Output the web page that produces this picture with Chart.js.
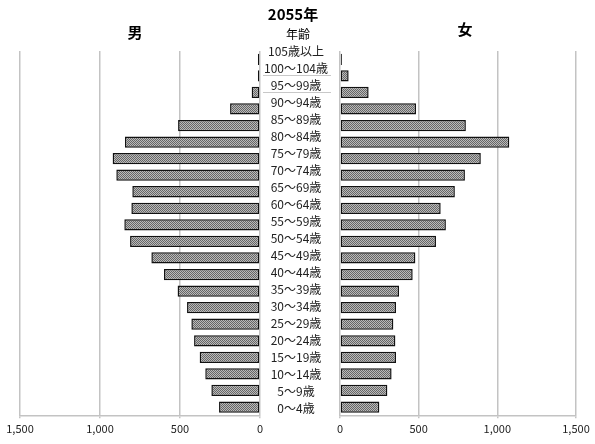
<!DOCTYPE html>
<html>
<head>
<meta charset="utf-8">
<script src="https://cdn.jsdelivr.net/npm/chart.js@4/dist/chart.umd.min.js"></script>
<style>
  html, body { margin: 0; padding: 0; background: #fff; }
  #wrap { position: relative; width: 595px; height: 444px; overflow: hidden;
          font-family: "Noto Sans CJK JP", "Noto Sans", sans-serif; color: #000; }
  #wrap canvas { position: absolute; left: 0; top: 0; }
  .t { position: absolute; transform: translate(-50%, -50%); white-space: nowrap; line-height: 1; }
</style>
</head>
<body>
<div id="wrap">
  <canvas id="maleChart" width="595" height="444"></canvas>
  <canvas id="femaleChart" width="595" height="444"></canvas>
  <div class="t" style="left:293px;top:13px;font-size:15px;font-weight:bold;">2055年</div>
  <div class="t" style="left:135px;top:31px;font-size:15px;font-weight:bold;">男</div>
  <div class="t" style="left:465px;top:28px;font-size:15px;font-weight:bold;">女</div>
  <div class="t" style="left:298px;top:34px;font-size:12px;">年齢</div>
</div>
<script>
// Age groups, youngest first
const ageLabels = ['0～4歳', '5～9歳', '10～14歳', '15～19歳', '20～24歳', '25～29歳',
  '30～34歳', '35～39歳', '40～44歳', '45～49歳', '50～54歳', '55～59歳', '60～64歳',
  '65～69歳', '70～74歳', '75～79歳', '80～84歳', '85～89歳', '90～94歳', '95～99歳',
  '100～104歳', '105歳以上'];

// Population by age group (thousands)
const maleValues = [256, 304, 342, 377, 412, 429, 456, 515, 600, 679, 812, 848, 804,
  798, 898, 921, 844, 512, 187, 52, 13, 13];
const femaleValues = [250, 301, 328, 356, 352, 339, 356, 375, 462, 479, 610, 673, 640,
  730, 794, 895, 1076, 800, 483, 182, 55, 12];

// Value axis range and tick step
const axisMin = 0;
const axisMax = 1500;
const axisStep = 500;

// Dotted grey fill for the bars
function dotPattern() {
  const c = document.createElement('canvas');
  c.width = 2; c.height = 2;
  const g = c.getContext('2d');
  g.fillStyle = '#bababa'; g.fillRect(0, 0, 2, 2);
  g.fillStyle = '#666666'; g.fillRect(0, 0, 1, 1); g.fillRect(1, 1, 1, 1);
  return g.createPattern(c, 'repeat');
}
const barFill = dotPattern();

const fontFamily = '"Noto Sans CJK JP", "Noto Sans", sans-serif';
const gridColor = '#c3c3c3';

function barDataset(values) {
  return {
    data: values,
    backgroundColor: barFill,
    borderColor: '#111',
    borderWidth: 1.5,
    borderSkipped: false,
    categoryPercentage: 1,
    barPercentage: 0.68
  };
}

function valueAxis(reverse) {
  return {
    type: 'linear',
    min: axisMin,
    max: axisMax,
    reverse: reverse,
    ticks: { stepSize: axisStep, font: { family: fontFamily, size: 11 }, color: '#222', padding: 4, maxRotation: 0 },
    grid: { color: gridColor, lineWidth: 1.5, tickLength: 3 },
    border: { color: gridColor, width: 1.5 }
  };
}

// thin separators under the two oldest closed age groups in the label column
const separatorPlugin = {
  id: 'ageSeparators',
  afterDraw(chart) {
    const s = chart.scales.age;
    if (!s) return;
    const ctx = chart.ctx;
    ctx.save();
    ctx.strokeStyle = '#c8c8c8';
    ctx.lineWidth = 1;
    [20, 19].forEach(i => {
      const y = Math.round(s.getPixelForValue(i - 0.38)) + 0.5;
      ctx.beginPath();
      ctx.moveTo(s.left + 3, y);
      ctx.lineTo(s.right - 9, y);
      ctx.stroke();
    });
    ctx.restore();
  }
};

const common = {
  responsive: false,
  animation: false,
  indexAxis: 'y',
  plugins: { legend: { display: false }, tooltip: { enabled: false } }
};

// Male side: value axis runs right to left, age labels in the middle column
new Chart(document.getElementById('maleChart'), {
  type: 'bar',
  data: { labels: ageLabels, datasets: [barDataset(maleValues)] },
  options: Object.assign({}, common, {
    layout: { padding: { left: 20, right: 255, top: 51, bottom: 4.5 } },
    scales: {
      x: valueAxis(true),
      y: { type: 'category', reverse: true, display: false, offset: true },
      age: {
        type: 'linear',
        axis: 'y',
        position: 'right',
        offset: false,
        min: -0.424,
        max: 21.04,
        grid: { display: false, drawTicks: false, offset: false },
        border: { display: false },
        afterFit: s => { s.width = 80; },
        ticks: {
          stepSize: 1,
          includeBounds: false,
          autoSkip: false,
          crossAlign: 'center',
          padding: 4,
          color: '#222',
          font: { family: fontFamily, size: 12 },
          callback: v => (Number.isInteger(v) && ageLabels[v] !== undefined) ? ageLabels[v] : ''
        }
      }
    }
  }),
  plugins: [separatorPlugin]
});

// Female side
new Chart(document.getElementById('femaleChart'), {
  type: 'bar',
  data: { labels: ageLabels, datasets: [barDataset(femaleValues)] },
  options: Object.assign({}, common, {
    layout: { padding: { left: 340, right: 19, top: 51, bottom: 4.5 } },
    scales: {
      x: valueAxis(false),
      y: { type: 'category', reverse: true, display: false, offset: true }
    }
  })
});
</script>
</body>
</html>
